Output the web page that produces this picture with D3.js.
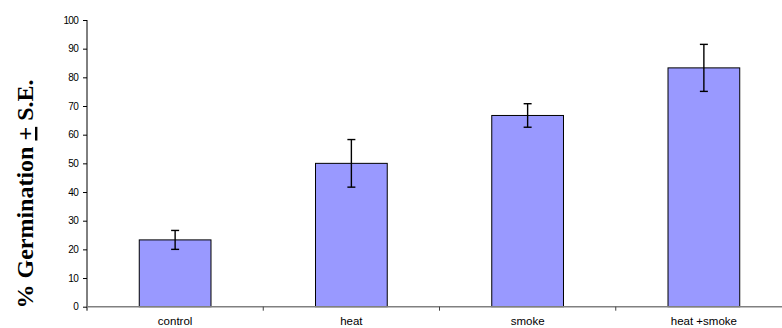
<!DOCTYPE html>
<html>
<head>
<meta charset="utf-8">
<script src="https://cdn.jsdelivr.net/npm/d3@7"></script>
<style>
  html, body { margin: 0; padding: 0; background: #fff; }
  svg { display: block; }
</style>
</head>
<body>
<svg id="chart" width="782" height="328"></svg>
<script>
const categories = ["control", "heat", "smoke", "heat +smoke"];
const germination = [23.3, 50.0, 66.7, 83.3];
const stdErr = [3.3, 8.3, 4.1, 8.2];
const yTicks = [0, 10, 20, 30, 40, 50, 60, 70, 80, 90, 100];

const svg = d3.select("#chart");
const plot = { left: 87, right: 792, top: 20, bottom: 306.7 };

const x = d3.scaleBand().domain(categories).range([plot.left, plot.right]).padding(0);
const y = d3.scaleLinear().domain([0, 100]).range([plot.bottom, plot.top]);
const barW = x.bandwidth() * 0.407;

// Y axis
const yAxis = d3.axisLeft(y).tickValues(yTicks).tickSize(4).tickPadding(5).tickSizeOuter(0);
const gy = svg.append("g").attr("transform", `translate(${plot.left},0)`).call(yAxis);
gy.select(".domain").attr("stroke", "#000").attr("stroke-width", 1)
  .attr("d", `M0,${plot.top}V${plot.bottom + 4}`);
gy.selectAll(".tick line").attr("stroke", "#000");
gy.selectAll(".tick text")
  .attr("font-family", "Liberation Sans, Arial, sans-serif")
  .attr("font-size", 10)
  .attr("letter-spacing", "-0.7px")
  .attr("fill", "#000");

// Bars
svg.append("g").selectAll("rect").data(categories).join("rect")
  .attr("x", d => x(d) + (x.bandwidth() - barW) / 2)
  .attr("y", (d, i) => y(germination[i]))
  .attr("width", barW)
  .attr("height", (d, i) => y(0) - y(germination[i]))
  .attr("fill", "#9999FF")
  .attr("stroke", "#000")
  .attr("stroke-width", 1);

// X baseline and category ticks
const gx = svg.append("g");
gx.append("line")
  .attr("x1", plot.left).attr("x2", plot.right)
  .attr("y1", y(0)).attr("y2", y(0))
  .attr("stroke", "#808080").attr("stroke-width", 1.5);
gx.selectAll("line.ct").data(categories.slice(1)).join("line")
  .attr("class", "ct")
  .attr("x1", d => x(d)).attr("x2", d => x(d))
  .attr("y1", y(0)).attr("y2", y(0) + 4)
  .attr("stroke", "#404040").attr("stroke-width", 1);
gx.selectAll("text").data(categories).join("text")
  .attr("x", d => x(d) + x.bandwidth() / 2)
  .attr("y", 324.5)
  .attr("text-anchor", "middle")
  .attr("font-family", "Liberation Sans, Arial, sans-serif")
  .attr("font-size", 11.5)
  .attr("fill", "#000")
  .text(d => d);

// Error bars
const capW = 8;
const eb = svg.append("g").attr("stroke", "#000").attr("stroke-width", 1.4);
categories.forEach((c, i) => {
  const cx = x(c) + x.bandwidth() / 2;
  const top = y(germination[i] + stdErr[i]);
  const bot = y(germination[i] - stdErr[i]);
  eb.append("line").attr("x1", cx).attr("x2", cx).attr("y1", top).attr("y2", bot);
  eb.append("line").attr("x1", cx - capW / 2).attr("x2", cx + capW / 2).attr("y1", top).attr("y2", top);
  eb.append("line").attr("x1", cx - capW / 2).attr("x2", cx + capW / 2).attr("y1", bot).attr("y2", bot);
});

// Y axis title
const title = svg.append("text")
  .attr("transform", `translate(33,194) rotate(-90)`)
  .attr("text-anchor", "middle")
  .attr("font-family", "Liberation Serif, Times New Roman, serif")
  .attr("font-weight", "bold")
  .attr("font-size", 24)
  .attr("fill", "#000");
title.append("tspan").text("% Germination ");
title.append("tspan").attr("text-decoration", "underline").text("+");
title.append("tspan").text(" S.E.");
</script>
</body>
</html>
